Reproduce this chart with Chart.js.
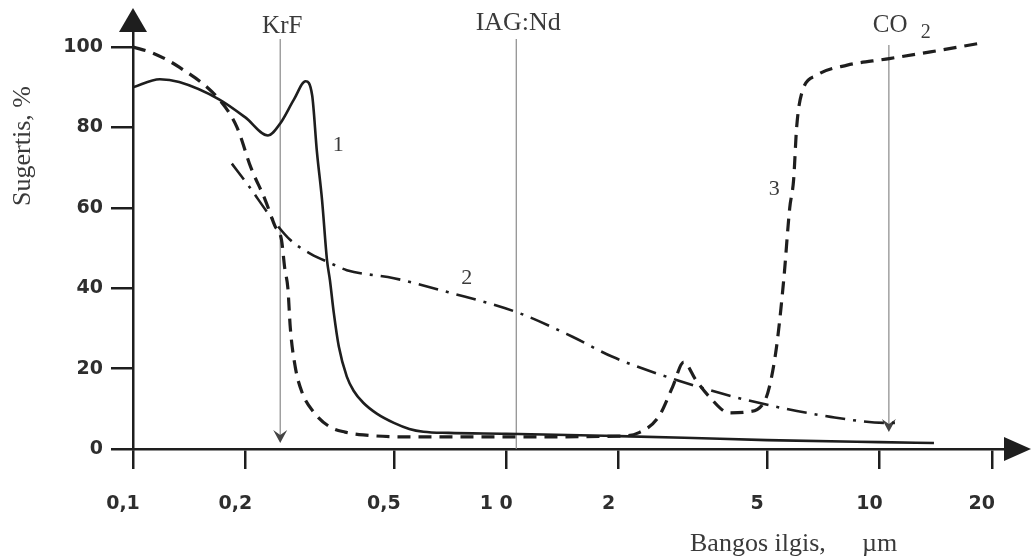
<!DOCTYPE html>
<html>
<head>
<meta charset="utf-8">
<script src="https://cdn.jsdelivr.net/npm/chart.js@4.4.1/dist/chart.umd.min.js"></script>
<style>
html,body{margin:0;padding:0;background:#fff;}
canvas{display:block;background:#fff;}
</style>
</head>
<body>
<canvas id="c" width="1034" height="560"></canvas>
<script>
// ---- data ----
const xTickValues = [0.1, 0.2, 0.5, 1, 2, 5, 10, 20];
const xTickLabels = ['0,1', '0,2', '0,5', '1 0', '2', '5', '10', '20'];
const yTickValues = [0, 20, 40, 60, 80, 100];

// curve 1 (solid)
const s1x = [0.1,0.118,0.133,0.17,0.2,0.23,0.248,0.27,0.29,0.302,0.311,0.321,0.331,0.337,0.345,0.356,0.374,0.39,0.414,0.45,0.5,0.55,0.6,0.7,1.0,2,3,5,10,14];
const s1y = [90,92,91.3,87,82.5,78,81,87,91.5,88,74,62,47,42,34,25.5,18,14.5,11.5,8.8,6.5,5,4.3,4,3.8,3.2,2.8,2.2,1.7,1.5];

// curve 2 (dash-dot)
const s2x = [0.184,0.204,0.235,0.264,0.3,0.337,0.374,0.5,0.7,1.07,1.5,1.92,2.9,4.4,7.4,10.5,11.4];
const s2y = [71,65.5,57.5,52,48.5,46.3,44.5,42.5,39,34,28,23,17,12.2,8,6.5,6.5];

// curve 3 (dashed)
const s3x = [0.1,0.113,0.133,0.17,0.19,0.207,0.226,0.24,0.25,0.255,0.26,0.264,0.272,0.284,0.306,0.337,0.37,0.414,0.56,1,2,2.26,2.56,2.79,2.99,3.22,3.5,3.96,4.4,4.89,5.07,5.3,5.54,5.75,5.89,6.0,6.19,6.8,8.2,10.4,13.7,18.7];
const s3y = [100,98.5,95,87,80,70,62,55.5,52,45,40,30,20.5,14,9,5.5,4.2,3.5,3,3,3.2,4,8,15.4,21.6,17.2,13,9,9.2,11.4,15.4,25.4,42,60,67,80,88.5,93,95.5,97,98.8,101];

// laser lines
const laserNames = ['KrF', 'IAG:Nd', 'CO'];
const laserWl = [0.248, 1.064, 10.6];
const laserEndY = [1.5, 0, 4.2];
const laserArrow = [true, false, true];

// curve labels
const curveLabelText = ['1', '2', '3'];
const curveLabelX = [0.355, 0.784, 5.23];
const curveLabelY = [75.6, 42.5, 64.7];

function pts(xs, ys){ return xs.map((x,i)=>({x:x, y:ys[i]})); }

const INK = '#1e1e1e';
const TICKINK = '#2e2e2e';

const decor = {
  id: 'decor',
  beforeDatasetsDraw(chart){
    const ctx = chart.ctx, xs = chart.scales.x, ys = chart.scales.y;
    ctx.save();
    ctx.strokeStyle = '#8a8a8a';
    ctx.lineWidth = 1.2;
    laserWl.forEach((w,i)=>{
      const px = xs.getPixelForValue(w);
      const top = i===2 ? 45 : 39;
      const bot = ys.getPixelForValue(laserEndY[i]);
      ctx.beginPath();
      ctx.moveTo(px, top);
      ctx.lineTo(px, laserArrow[i] ? bot - 8 : bot);
      ctx.stroke();
      if (laserArrow[i]) {
        ctx.fillStyle = '#444';
        ctx.beginPath();
        ctx.moveTo(px, bot);
        ctx.lineTo(px - 7, bot - 13);
        ctx.lineTo(px, bot - 8);
        ctx.lineTo(px + 7, bot - 13);
        ctx.closePath();
        ctx.fill();
      }
    });
    ctx.restore();
  },
  afterDraw(chart){
    const ctx = chart.ctx, xs = chart.scales.x, ys = chart.scales.y, a = chart.chartArea;
    ctx.save();
    // axis arrows
    ctx.fillStyle = INK;
    ctx.beginPath();
    ctx.moveTo(a.left, 8);
    ctx.lineTo(a.left - 14, a.top + 1);
    ctx.lineTo(a.left + 14, a.top + 1);
    ctx.closePath();
    ctx.fill();
    ctx.beginPath();
    ctx.moveTo(1031, a.bottom);
    ctx.lineTo(a.right - 1, a.bottom - 12);
    ctx.lineTo(a.right - 1, a.bottom + 12);
    ctx.closePath();
    ctx.fill();

    // laser labels
    ctx.fillStyle = '#3a3a3a';
    ctx.font = '25px "Liberation Serif", "Times New Roman", serif';
    ctx.textBaseline = 'alphabetic';
    ctx.textAlign = 'center';
    const kx = xs.getPixelForValue(laserWl[0]);
    ctx.fillText(laserNames[0], kx + 2, 33);
    const ix = xs.getPixelForValue(laserWl[1]);
    ctx.font = '26px "Liberation Serif", "Times New Roman", serif';
    ctx.fillText(laserNames[1], ix + 2, 30);
    const cx = xs.getPixelForValue(laserWl[2]);
    ctx.font = '25px "Liberation Serif", "Times New Roman", serif';
    ctx.textAlign = 'left';
    ctx.fillText(laserNames[2], cx - 16, 32);
    ctx.font = '20px "Liberation Serif", "Times New Roman", serif';
    ctx.fillText('2', cx + 32, 38);

    // curve labels
    ctx.font = '22px "Liberation Serif", "Times New Roman", serif';
    ctx.textAlign = 'center';
    ctx.textBaseline = 'middle';
    curveLabelText.forEach((t,i)=>{
      ctx.fillText(t, xs.getPixelForValue(curveLabelX[i]), ys.getPixelForValue(curveLabelY[i]));
    });

    // axis titles
    ctx.font = '26px "Liberation Serif", "Times New Roman", serif';
    ctx.textBaseline = 'alphabetic';
    ctx.textAlign = 'left';
    ctx.fillText('Bangos ilgis,', 690, 551);
    ctx.fillText('µm', 862, 551);

    ctx.translate(30, 146);
    ctx.rotate(-Math.PI/2);
    ctx.textAlign = 'center';
    ctx.fillText('Sugertis, %', 0, 0);
    ctx.restore();
  }
};

new Chart(document.getElementById('c'), {
  type: 'line',
  data: {
    datasets: [
      { data: pts(s1x, s1y), borderColor: INK, borderWidth: 2.6, pointRadius: 0, fill: false, cubicInterpolationMode: 'monotone' },
      { data: pts(s2x, s2y), borderColor: INK, borderWidth: 2.6, borderDash: [20, 8, 3, 8], pointRadius: 0, fill: false, cubicInterpolationMode: 'monotone' },
      { data: pts(s3x, s3y), borderColor: INK, borderWidth: 3.2, borderDash: [13, 8], pointRadius: 0, fill: false, cubicInterpolationMode: 'monotone' }
    ]
  },
  options: {
    responsive: false,
    animation: false,
    events: [],
    layout: { padding: { left: 0, right: 29, top: 31, bottom: 0 } },
    plugins: { legend: { display: false }, tooltip: { enabled: false } },
    scales: {
      x: {
        type: 'logarithmic', min: 0.1, max: 21.7,
        afterBuildTicks: s => { s.ticks = xTickValues.map(v => ({ value: v })); },
        afterFit: s => { s.height = 111; },
        ticks: { autoSkip: false, maxRotation: 0, minRotation: 0, padding: 24, labelOffset: -10, color: TICKINK,
                 font: { family: '"DejaVu Sans", sans-serif', size: 19, weight: 'bold' },
                 callback: (v, i) => xTickLabels[i] },
        grid: { drawOnChartArea: false, drawTicks: true, tickLength: 20, color: INK, lineWidth: 2.5 },
        border: { display: true, color: INK, width: 2.5 }
      },
      y: {
        min: 0, max: 104,
        afterBuildTicks: s => { s.ticks = yTickValues.map(v => ({ value: v })); },
        afterFit: s => { s.width = 133; },
        ticks: { padding: 8, color: TICKINK, font: { family: '"DejaVu Sans", sans-serif', size: 19, weight: 'bold' },
                 callback: v => String(v) },
        grid: { drawOnChartArea: false, drawTicks: true, tickLength: 22, color: INK, lineWidth: 2.5 },
        border: { display: true, color: INK, width: 2.5 }
      }
    }
  },
  plugins: [decor]
});
</script>
</body>
</html>
